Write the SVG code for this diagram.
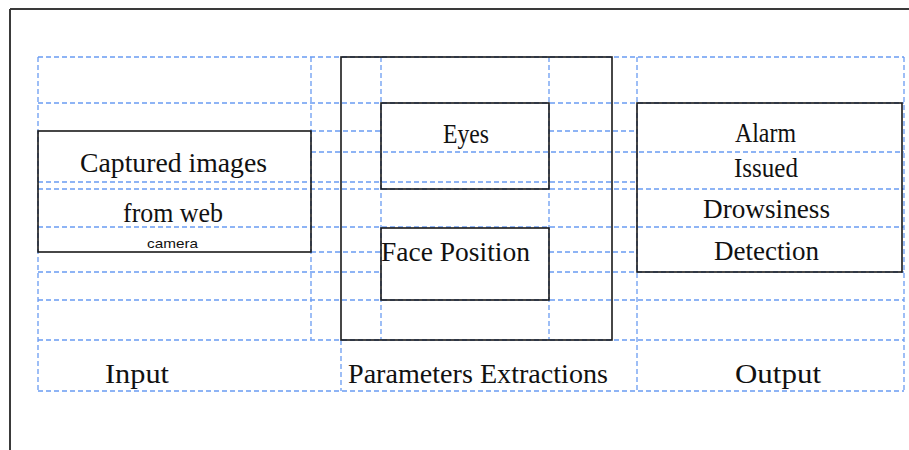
<svg xmlns="http://www.w3.org/2000/svg" width="909" height="450" viewBox="0 0 909 450">
<style>
.g{stroke:#6a9cf2;stroke-width:1.3;stroke-dasharray:5 3;fill:none}
.b{stroke:#1a1a1a;stroke-width:1.6;fill:none}
.t{font-family:"Liberation Serif","Times New Roman",serif;font-size:27px;fill:#111}
.s{font-family:"Liberation Sans",Arial,sans-serif;font-size:13px;fill:#111}
</style>
<rect width="909" height="450" fill="#fff"/>
<g id="frame">
<path d="M10 9 H909 M10 9 V450" stroke="#3a3a3a" stroke-width="2" fill="none"/>
</g>
<g id="connectors" class="g">
<path d="M38 57 H904 M38 103 H904 M311 131 H381 M549 131 H637 M311 152 H904 M38 182 H637 M38 189 H904 M38 227 H904 M311 252 H381 M549 252 H637 M38 272 H381 M549 272 H904 M38 300 H904 M38 340 H904 M38 391 H904"/>
<path d="M38 57 V391 M311 57 V340 M341 340 V391 M381 57 V340 M549 57 V340 M637 57 V391 M904 57 V391"/>
</g>
<g id="input">
<rect class="b" x="38" y="131" width="273" height="121"/>
<text class="t" x="80" y="172" textLength="187" lengthAdjust="spacingAndGlyphs">Captured  images</text>
<text class="t" x="123" y="222" textLength="100" lengthAdjust="spacingAndGlyphs">from web</text>
<text class="s" x="147" y="248" textLength="51" lengthAdjust="spacingAndGlyphs">camera</text>
</g>
<g id="parameters">
<rect class="b" x="341" y="57" width="271" height="283"/>
</g>
<g id="eyes">
<rect class="b" x="381" y="103" width="168" height="86"/>
<text class="t" x="443" y="143" textLength="46" lengthAdjust="spacingAndGlyphs">Eyes</text>
</g>
<g id="face">
<rect class="b" x="381" y="228" width="168" height="72"/>
<text class="t" x="381" y="261" textLength="149" lengthAdjust="spacingAndGlyphs">Face  Position</text>
</g>
<g id="output">
<rect class="b" x="637" y="103" width="265" height="169"/>
<text class="t" x="735" y="142" textLength="61" lengthAdjust="spacingAndGlyphs">Alarm</text>
<text class="t" x="734" y="177" textLength="64" lengthAdjust="spacingAndGlyphs">Issued</text>
<text class="t" x="703" y="218" textLength="127" lengthAdjust="spacingAndGlyphs">Drowsiness</text>
<text class="t" x="714" y="260" textLength="105" lengthAdjust="spacingAndGlyphs">Detection</text>
</g>
<g id="labels">
<text class="t" x="105" y="383" textLength="64" lengthAdjust="spacingAndGlyphs">Input</text>
<text class="t" x="348" y="383" textLength="260" lengthAdjust="spacingAndGlyphs">Parameters  Extractions</text>
<text class="t" x="735" y="383" textLength="86" lengthAdjust="spacingAndGlyphs">Output</text>
</g>
</svg>
